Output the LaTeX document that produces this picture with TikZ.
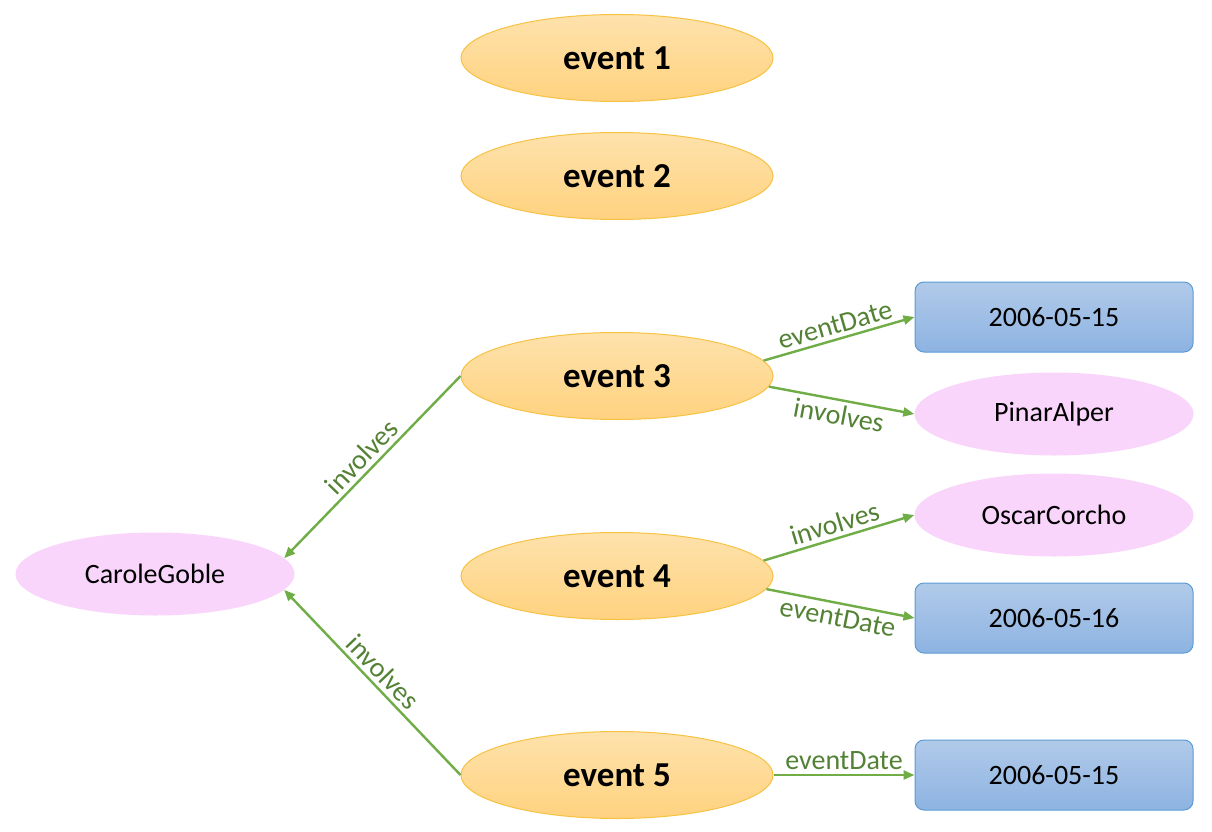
\documentclass[tikz,border=0pt]{standalone}
\usepackage{fontspec}
\setmainfont{Carlito}
\usetikzlibrary{shapes.geometric,arrows.meta}
\definecolor{evtop}{HTML}{FEE2AC}
\definecolor{evbot}{HTML}{FFD27F}
\definecolor{evline}{HTML}{F7C242}
\definecolor{pinkfill}{HTML}{F9D5FC}
\definecolor{bltop}{HTML}{B1CAE9}
\definecolor{blbot}{HTML}{8DB3E2}
\definecolor{blline}{HTML}{5B9BD5}
\definecolor{arrgreen}{HTML}{70AD47}
\definecolor{lblgreen}{HTML}{548235}
\tikzset{
  eventnode/.style={ellipse, draw=evline, line width=1pt, top color=evtop, bottom color=evbot,
    minimum width=312pt, minimum height=87pt, inner sep=0pt, font=\fontsize{35}{40}\selectfont\bfseries},
  personnode/.style={ellipse, fill=pinkfill, minimum width=279pt, minimum height=83pt, inner sep=0pt,
    font=\fontsize{28}{32}\selectfont},
  datenode/.style={rectangle, rounded corners=9pt, draw=blline, line width=1pt, top color=bltop, bottom color=blbot,
    minimum width=278pt, minimum height=70pt, inner sep=0pt, font=\fontsize{28}{32}\selectfont},
  rel/.style={draw=arrgreen, line width=2.4pt, -{Triangle[length=11pt,width=9pt]}},
  lbl/.style={text=lblgreen, font=\fontsize{28}{32}\selectfont, sloped, inner sep=4pt}
}
\begin{document}
\begin{tikzpicture}[x=1pt,y=-1pt]
\path[use as bounding box, fill=white] (0,0) rectangle (1212,832);
\node[eventnode] (e1) at (617,58) {event 1};
\node[eventnode] (e2) at (617,176) {event 2};
\node[eventnode] (e3) at (617,376) {event 3};
\node[eventnode] (e4) at (617,576) {event 4};
\node[eventnode] (e5) at (617,775) {event 5};
\node[personnode] (c) at (155,574) {CaroleGoble};
\node[personnode] (p) at (1054,414) {PinarAlper};
\node[personnode] (o) at (1054,515) {OscarCorcho};
\node[datenode] (d1) at (1054,317) {2006-05-15};
\node[datenode] (d2) at (1054,618) {2006-05-16};
\node[datenode] (d3) at (1054,775) {2006-05-15};
\draw[rel] (e3.6) -- (d1.west) node[lbl, midway, above] {eventDate};
\draw[rel] (e3.-4) -- (p.west) node[lbl, midway, below] {involves};
\draw[rel] (e4.6) -- (o.west) node[lbl, midway, above] {involves};
\draw[rel] (e4.-5) -- (d2.west) node[lbl, midway, below] {eventDate};
\draw[rel] (e5.east) -- (d3.west) node[lbl, midway, above] {eventDate};
\draw[rel] (e3.west) -- (c.7) node[lbl, midway, above] {involves};
\draw[rel] (e5.west) -- (c.-7) node[lbl, midway, above] {involves};
\end{tikzpicture}
\end{document}
